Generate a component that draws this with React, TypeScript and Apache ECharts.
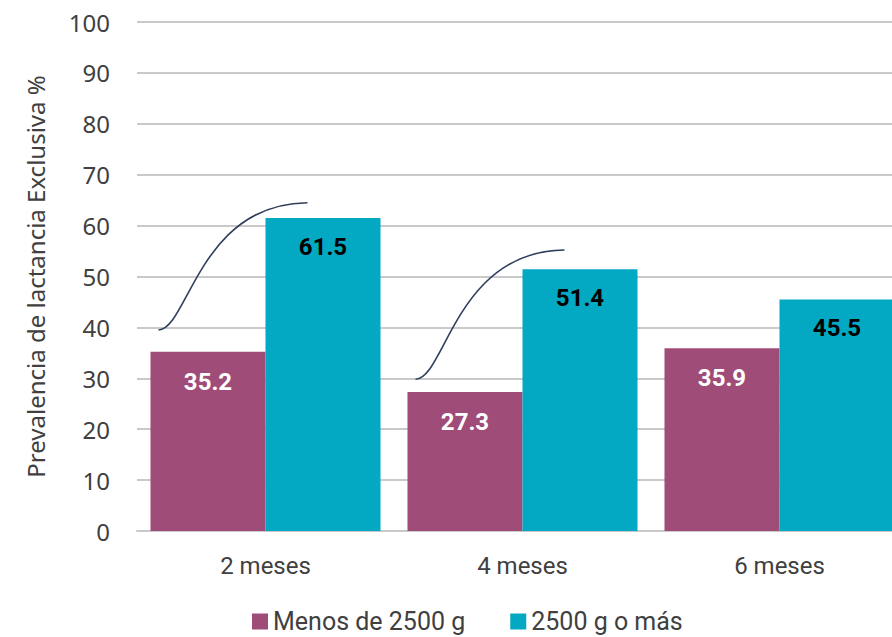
import React, { useEffect, useRef } from "react";
import * as echarts from "echarts";

const categories = ["2 meses", "4 meses", "6 meses"];
const seriesNames = ["Menos de 2500 g", "2500 g o más"];
const lowWeight = [35.2, 27.3, 35.9];
const normalWeight = [61.5, 51.4, 45.5];
const yTicks = [0, 10, 20, 30, 40, 50, 60, 70, 80, 90, 100];
// significance curves: category index, start value, end value
const curveCategory = [0, 1];
const curveStart = [39.5, 29.8];
const curveEnd = [64.5, 55.2];

const MAGENTA = "#a04c78";
const TEAL = "#03a8c3";
const TEXT = "#404040";
const GRID = "#c9c9c9";

export default function App() {
  const ref = useRef<HTMLDivElement>(null);

  useEffect(() => {
    if (!ref.current) return;
    const chart = echarts.init(ref.current, null, { renderer: "svg" });
    const option: any = {
      animation: false,
      backgroundColor: "#ffffff",
      grid: { left: 137, right: 0, top: 22, bottom: 106, containLabel: false },
      legend: {
        data: seriesNames,
        left: 252,
        top: 609,
        padding: 0,
        icon: "rect",
        itemWidth: 16,
        itemHeight: 16,
        itemGap: 45,
        textStyle: { fontFamily: "Roboto", fontSize: 25, color: TEXT },
      },
      xAxis: {
        type: "category",
        data: categories,
        axisTick: { show: false },
        axisLine: { lineStyle: { color: GRID, width: 2 } },
        axisLabel: { color: TEXT, fontFamily: "Roboto", fontSize: 24, margin: 23 },
      },
      yAxis: {
        type: "value",
        min: yTicks[0],
        max: yTicks[yTicks.length - 1],
        interval: 10,
        name: "Prevalencia de lactancia Exclusiva %",
        nameLocation: "middle",
        nameGap: 90,
        nameTextStyle: { color: TEXT, fontFamily: "Noto Sans", fontSize: 24 },
        axisLine: { show: false },
        axisTick: { show: false },
        axisLabel: { color: TEXT, fontFamily: "Noto Sans", fontSize: 24, margin: 27 },
        splitLine: { lineStyle: { color: GRID, width: 2 } },
      },
      series: [
        {
          name: seriesNames[0],
          type: "bar",
          data: lowWeight,
          barGap: "0%",
          barCategoryGap: "10.5%",
          itemStyle: { color: MAGENTA },
          label: {
            show: true,
            position: "insideTop",
            distance: 18,
            color: "#ffffff",
            fontFamily: "Roboto",
            fontWeight: "bold",
            fontSize: 24,
          },
        },
        {
          name: seriesNames[1],
          type: "bar",
          data: normalWeight,
          itemStyle: { color: TEAL },
          label: {
            show: true,
            position: "insideTop",
            distance: 17,
            color: "#000000",
            fontFamily: "Roboto",
            fontWeight: "bold",
            fontSize: 24,
          },
        },
      ],
    };
    chart.setOption(option);

    const curves = curveCategory.map((ci, i) => {
      const p0 = chart.convertToPixel({ gridIndex: 0 }, [ci, curveStart[i]]) as number[];
      const p3 = chart.convertToPixel({ gridIndex: 0 }, [ci, curveEnd[i]]) as number[];
      const x1 = p0[0] - 107;
      const x2 = p0[0] + 42;
      const dx = x2 - x1;
      return {
        type: "bezierCurve",
        silent: true,
        shape: {
          x1,
          y1: p0[1],
          x2,
          y2: p3[1],
          cpx1: x1 + 0.2 * dx,
          cpy1: p0[1] - 1,
          cpx2: x1 + 0.27 * dx,
          cpy2: p3[1] + 1,
        },
        style: { stroke: "#2e3f5c", lineWidth: 1.6, fill: null },
      };
    });
    chart.setOption({ graphic: curves });

    return () => chart.dispose();
  }, []);

  return (
    <div
      style={{
        position: "fixed",
        left: 0,
        top: 0,
        width: 892,
        height: 637,
        overflow: "hidden",
        background: "#ffffff",
      }}
    >
      <div ref={ref} style={{ width: 908, height: 637 }} />
    </div>
  );
}
